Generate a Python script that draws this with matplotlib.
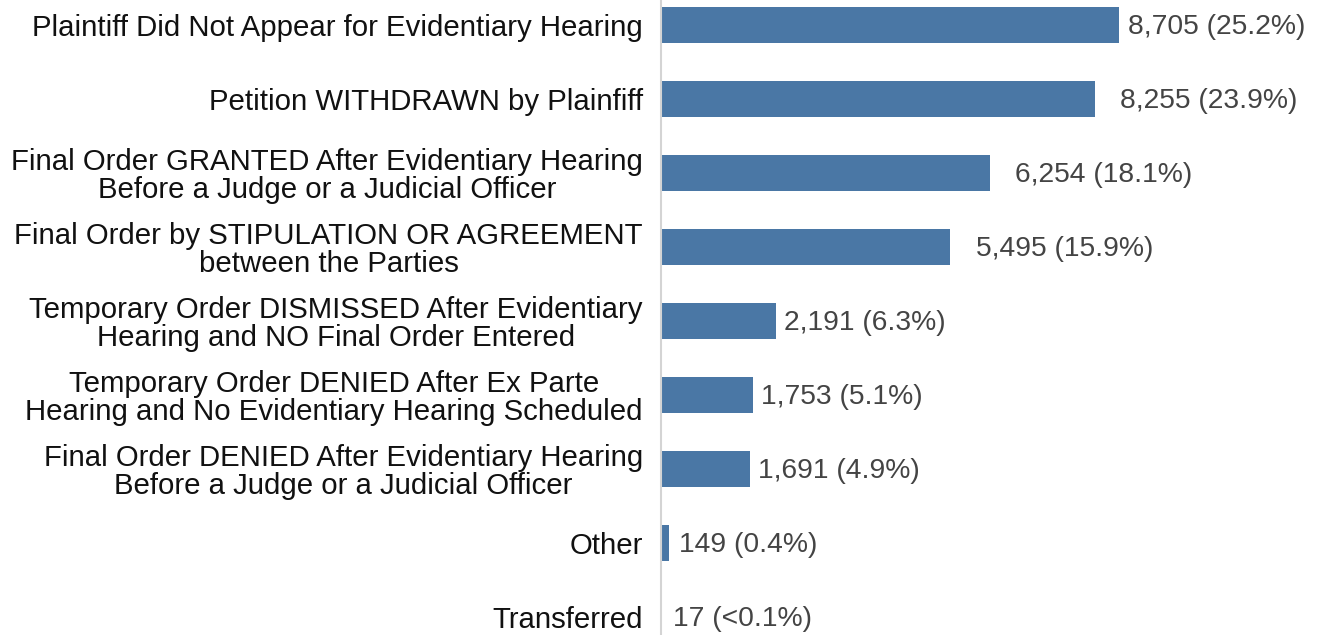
import matplotlib
matplotlib.use("Agg")
import matplotlib.pyplot as plt
from matplotlib.transforms import offset_copy

categories = [
    "Plaintiff Did Not Appear for Evidentiary Hearing",
    "Petition WITHDRAWN by Plainfiff",
    "Final Order GRANTED After Evidentiary Hearing\nBefore a Judge or a Judicial Officer",
    "Final Order by STIPULATION OR AGREEMENT\nbetween the Parties",
    "Temporary Order DISMISSED After Evidentiary\nHearing and NO Final Order Entered",
    "Temporary Order DENIED After Ex Parte\nHearing and No Evidentiary Hearing Scheduled",
    "Final Order DENIED After Evidentiary Hearing\nBefore a Judge or a Judicial Officer",
    "Other",
    "Transferred",
]
counts = [8705, 8255, 6254, 5495, 2191, 1753, 1691, 149, 17]
value_labels = ["8,705 (25.2%)", "8,255 (23.9%)", "6,254 (18.1%)", "5,495 (15.9%)",
                "2,191 (6.3%)", "1,753 (5.1%)", "1,691 (4.9%)", "149 (0.4%)", "17 (<0.1%)"]

plt.rcParams['font.family'] = ['Liberation Sans', 'DejaVu Sans']

W, H, DPI = 1318, 635, 100
fig = plt.figure(figsize=(W / DPI, H / DPI), dpi=DPI)
ax = fig.add_axes([661 / W, 0, 1 - 661 / W, 1])

ypos = list(range(len(categories)))
ax.barh(ypos, counts, height=0.49, color="#4a77a5")
ax.set_ylim(8.243, -0.338)
ax.set_xlim(0, (W - 661) / 0.0526)

for s in ["top", "right", "bottom"]:
    ax.spines[s].set_visible(False)
ax.spines["left"].set_color("#d4d4d4")
ax.spines["left"].set_linewidth(1.5)
ax.set_xticks([])
ax.set_yticks(ypos)
ax.set_yticklabels(categories, fontsize=21.2, color="#111111", linespacing=1.0,
                   multialignment="center")
ax.tick_params(axis="y", length=0, pad=13)

offsets = [9, 25, 25, 26, 8, 8, 8, 10, 11]
for y, c, lab, off in zip(ypos, counts, value_labels, offsets):
    tr = offset_copy(ax.transData, fig=fig, x=off, y=-2, units="dots")
    ax.text(c, y, lab, transform=tr, va="center", ha="left",
            fontsize=20.3, color="#444444")

fig.savefig("out.png", dpi=DPI)
